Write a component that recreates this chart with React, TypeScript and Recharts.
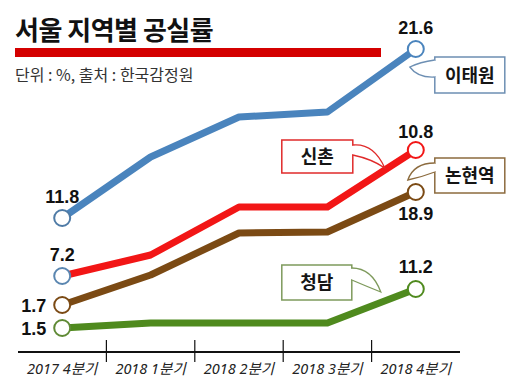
import React from 'react';
import { LineChart, Line, XAxis, YAxis } from 'recharts';

// Quarter categories
const categories = ['2017 4분기', '2018 1분기', '2018 2분기', '2018 3분기', '2018 4분기'];

// Plotted heights as drawn in the (illustrative, not-to-scale) source graphic
const itaewon = [134, 195, 235, 240, 303];
const sinchon = [76, 97, 145, 145, 202];
const nonhyeon = [47, 77, 119, 120, 160];
const cheongdam = [24, 29, 29, 29, 63];

// Printed vacancy rates (%) at the first and last quarter
const itaewonLabels = ['11.8', '21.6'];
const sinchonLabels = ['7.2', '10.8'];
const nonhyeonLabels = ['1.7', '18.9'];
const cheongdamLabels = ['1.5', '11.2'];

const seriesNames = ['이태원', '신촌', '논현역', '청담'];

const data = categories.map((c, i) => ({
  name: c,
  itaewon: itaewon[i],
  sinchon: sinchon[i],
  nonhyeon: nonhyeon[i],
  cheongdam: cheongdam[i],
}));

const NUM_FONT = '"Liberation Sans", Arial, sans-serif';
const KR_FONT = '"Noto Sans CJK KR", "Noto Sans", sans-serif';
const TICK_FONT = '"Noto Sans", "Noto Sans CJK KR", sans-serif';

type Side = 'top' | 'left' | 'bottom';

interface SeriesCfg {
  key: string;
  name: string;
  color: string;
  startDot: string;
  boxColor: string;
  labels: string[];
  startPos: Side;
  endPos: Side;
  endDy: number;
  callout: 'right' | 'left';
  // callout geometry relative to last point (styling only)
  box: [number, number, number, number];
  opening: [number, number];
  tip: [number, number];
  c1: [number, number];
  c2: [number, number];
}

const series: SeriesCfg[] = [
  {
    key: 'itaewon', name: seriesNames[0], color: '#4a84bd', startDot: '#4f7ba6', boxColor: '#6d8fb3',
    labels: itaewonLabels, startPos: 'top', endPos: 'top', endDy: -15, callout: 'right',
    box: [19, 8, 70, 36], opening: [11, 28], tip: [-6, 18], c1: [4, 13], c2: [2, 29],
  },
  {
    key: 'sinchon', name: seriesNames[1], color: '#f21616', startDot: '#5a86b0', boxColor: '#e02a2a',
    labels: sinchonLabels, startPos: 'top', endPos: 'top', endDy: -12, callout: 'left',
    box: [-134, -10, 71, 33], opening: [-5, 5], tip: [-31, 18], c1: [-42, -7], c2: [-44, 9],
  },
  {
    key: 'nonhyeon', name: seriesNames[2], color: '#7b4a14', startDot: '#7b4a14', boxColor: '#8c6b3e',
    labels: nonhyeonLabels, startPos: 'left', endPos: 'bottom', endDy: 28, callout: 'right',
    box: [19, -34, 70, 35], opening: [-29, -20], tip: [-8, -12], c1: [-2, -29], c2: [6, -15],
  },
  {
    key: 'cheongdam', name: seriesNames[3], color: '#4f8a1e', startDot: '#5f8a35', boxColor: '#7e9a5c',
    labels: cheongdamLabels, startPos: 'left', endPos: 'top', endDy: -16, callout: 'left',
    box: [-134, -24, 70, 35], opening: [-21, -9], tip: [-35, 3], c1: [-44, -21], c2: [-50, -3],
  },
];

const LAST = categories.length - 1;

const makeDot = (s: SeriesCfg) => (props: any) => {
  const { cx, cy, index } = props;
  if (index !== 0 && index !== LAST) return <g key={`d-${s.key}-${index}`} />;
  return (
    <circle
      key={`d-${s.key}-${index}`}
      cx={cx}
      cy={cy}
      r={8}
      fill="#fff"
      stroke={index === 0 ? s.startDot : s.color}
      strokeWidth={2}
    />
  );
};

const valueText = (x: number, y: number, text: string, pos: Side, dy: number, key: string) => {
  if (pos === 'left') {
    return (
      <text key={key} x={x - 16} y={y + 6.5} textAnchor="end" fontFamily={NUM_FONT} fontWeight={700} fontSize={18} fill="#111">
        {text}
      </text>
    );
  }
  return (
    <text key={key} x={x} y={y + dy} textAnchor="middle" fontFamily={NUM_FONT} fontWeight={700} fontSize={18} fill="#111">
      {text}
    </text>
  );
};

const makeLabel = (s: SeriesCfg) => (props: any) => {
  const { x, y, index } = props;
  if (index === 0) {
    return <g key={`l-${s.key}-0`}>{valueText(x, y, s.labels[0], s.startPos, -15, 'v0')}</g>;
  }
  if (index !== LAST) return <g key={`l-${s.key}-${index}`} />;
  const [bx, by, bw, bh] = s.box;
  const edgeX = s.callout === 'right' ? x + bx : x + bx + bw;
  const o1 = y + s.opening[0];
  const o2 = y + s.opening[1];
  const tx = x + s.tip[0];
  const ty = y + s.tip[1];
  const path = `M ${edgeX} ${o1} Q ${x + s.c1[0]} ${y + s.c1[1]} ${tx} ${ty} Q ${x + s.c2[0]} ${y + s.c2[1]} ${edgeX} ${o2}`;
  return (
    <g key={`l-${s.key}-${index}`}>
      {valueText(x, y, s.labels[1], s.endPos, s.endDy, 'v1')}
      <rect x={x + bx} y={y + by} width={bw} height={bh} fill="#fff" stroke={s.boxColor} strokeWidth={1.5} />
      <path d={path} fill="#fff" stroke={s.boxColor} strokeWidth={1.3} />
      <line x1={edgeX} y1={o1 + 1} x2={edgeX} y2={o2 - 1} stroke="#fff" strokeWidth={3} />
      <text
        x={x + bx + bw / 2}
        y={y + by + bh / 2 + 6.5}
        textAnchor="middle"
        fontFamily={KR_FONT}
        fontWeight={700}
        fontSize={18}
        fill="#151515"
      >
        {s.name}
      </text>
    </g>
  );
};

const AxisTick = (props: any) => {
  const { x, y, payload, index, width, visibleTicksCount } = props;
  const count = visibleTicksCount || categories.length;
  const band = width ? width / count : 88.4;
  return (
    <g>
      {index < count - 1 && (
        <line x1={x + band / 2} y1={y - 20} x2={x + band / 2} y2={y + 2} stroke="#111" strokeWidth={1.2} />
      )}
      <text
        x={x}
        y={y + 13.5}
        textAnchor="middle"
        fontFamily={TICK_FONT}
        fontStyle="italic"
        fontSize={14.5}
        fill="#222"
      >
        {payload.value}
      </text>
    </g>
  );
};

export default function App() {
  return (
    <div style={{ position: 'absolute', left: 0, top: 0, width: 520, height: 389, background: '#fff' }}>
      <svg width={520} height={389} style={{ position: 'absolute', left: 0, top: 0 }}>
        <text x={15} y={40} fontFamily={KR_FONT} fontWeight={700} fontSize={26} letterSpacing={-0.5} fill="#111">
          서울 지역별 공실률
        </text>
        <rect x={15} y={48} width={366} height={9} fill="#d40000" />
        <text x={15} y={81} fontFamily={KR_FONT} fontSize={16} fill="#333">
          단위 : %, 출처 : 한국감정원
        </text>
      </svg>
      <div style={{ position: 'absolute', left: 0, top: 0 }}>
        <LineChart width={520} height={389} data={data} margin={{ top: 0, right: 60, bottom: 0, left: 18 }}>
          <XAxis
            dataKey="name"
            scale="band"
            height={37}
            interval={0}
            axisLine={{ stroke: '#111', strokeWidth: 2 }}
            tickLine={false}
            tick={<AxisTick />}
          />
          <YAxis hide width={0} type="number" domain={[0, 352]} />
          {series.map((s) => (
            <Line
              key={s.key}
              dataKey={s.key}
              name={s.name}
              stroke={s.color}
              strokeWidth={7}
              strokeLinejoin="round"
              type="linear"
              isAnimationActive={false}
              dot={makeDot(s)}
              activeDot={false}
              label={makeLabel(s)}
            />
          ))}
        </LineChart>
      </div>
    </div>
  );
}
